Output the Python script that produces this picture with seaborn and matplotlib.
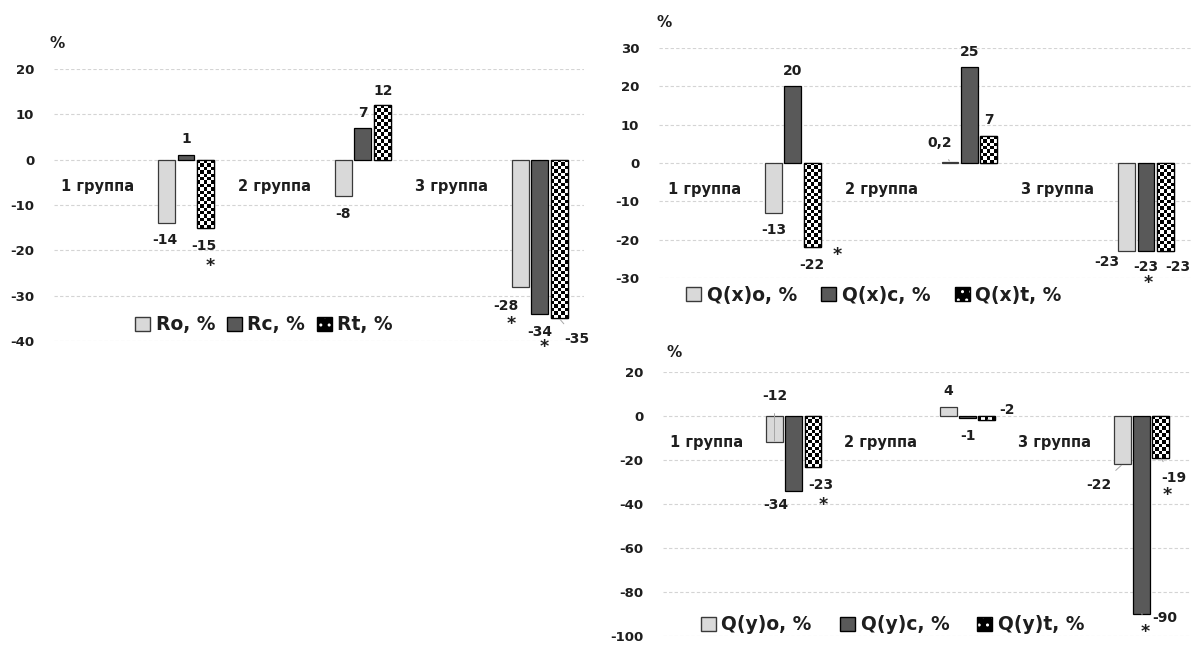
import numpy as np
import pandas as pd
import matplotlib
matplotlib.use("Agg")
import matplotlib.pyplot as plt
import seaborn as sns
from matplotlib.patches import Patch, Rectangle
from matplotlib.legend_handler import HandlerTuple

# ---- data ----
groups = ["1 группа", "2 группа", "3 группа"]

r_names = ["Ro, %", "Rc, %", "Rt, %"]
r_o = [-14, -8, -28]
r_c = [1, 7, -34]
r_t = [-15, 12, -35]

qx_names = ["Q(x)o, %", "Q(x)c, %", "Q(x)t, %"]
qx_o = [-13, 0.2, -23]
qx_c = [20, 25, -23]
qx_t = [-22, 7, -23]

qy_names = ["Q(y)o, %", "Q(y)c, %", "Q(y)t, %"]
qy_o = [-12, 4, -22]
qy_c = [-34, -1, -90]
qy_t = [-23, -2, -19]

# (series, group) that carry an asterisk
r_stars = [(2, 0), (0, 2), (1, 2)]
qx_stars = [(2, 0), (1, 2)]
qy_stars = [(2, 0), (1, 2), (2, 2)]

# ---- styling ----
LIGHT = "#d9d9d9"
DARK = "#595959"
TXT = "#1e1e1e"

sns.set_style("white")
plt.rcParams["font.family"] = ["DejaVu Sans"]


def fmt(v):
    return f"{v:g}".replace(".", ",")


def checker_fill(ax, bar, cell=3.4):
    x0, y0 = bar.get_x(), bar.get_y()
    w, h = bar.get_width(), bar.get_height()
    (px0, py0), (px1, py1) = ax.transData.transform([(x0, y0), (x0 + w, y0 + h)])
    nx = max(1, int(round(abs(px1 - px0) / cell)))
    ny = max(1, int(round(abs(py1 - py0) / cell)))
    board = np.indices((ny, nx)).sum(axis=0) % 2
    img = ax.imshow(board, cmap="gray", vmin=0, vmax=1,
                    extent=(x0, x0 + w, min(y0, y0 + h), max(y0, y0 + h)),
                    aspect="auto", interpolation="nearest",
                    zorder=bar.get_zorder() + 0.1)
    img.set_clip_path(bar)
    ax.add_patch(Rectangle((x0, y0), w, h, fill=False, ec="black", lw=0.9,
                           zorder=bar.get_zorder() + 0.2))


def panel(fig, rect, names, series, ylim, yticks, xlim, offsets, leaders,
          stars, star_off, pct_off, leg_anchor, colspace):
    ax = fig.add_axes(rect)
    df = pd.DataFrame({
        "group": np.repeat([groups], 3, axis=0).ravel(),
        "series": np.repeat(names, 3),
        "value": np.concatenate(series),
    })
    sns.barplot(data=df, x="group", y="value", hue="series",
                palette=[LIGHT, DARK, "white"], width=0.33, gap=0.14,
                edgecolor="black", linewidth=0.9, errorbar=None,
                legend=False, ax=ax, zorder=3)
    for b in ax.containers[0]:
        b.set_edgecolor("#3a3a3a")
    ax.set_xlim(*xlim)
    ax.set_ylim(*ylim)
    ax.set_yticks(yticks)
    ax.set_yticklabels([str(t) for t in yticks])
    ax.set_xticks([])
    ax.set_xlabel("")
    ax.set_ylabel("")
    sns.despine(ax=ax, left=True, bottom=True)
    ax.yaxis.grid(True, color="#d4d4d4", lw=0.8, ls=(0, (3, 2)))
    ax.set_axisbelow(True)
    ax.tick_params(axis="y", length=0, pad=14, labelsize=9.5, labelcolor=TXT)
    for t in ax.get_yticklabels():
        t.set_fontweight("bold")

    for b in ax.containers[2]:
        checker_fill(ax, b)

    # data labels
    for k in range(3):
        for i, b in enumerate(ax.containers[k]):
            v = series[k][i]
            xc = b.get_x() + b.get_width() / 2
            dx, dy = offsets[k][i]
            arrow = None
            if (k, i) in leaders:
                arrow = dict(arrowstyle="-", color="#a6a6a6", lw=0.7,
                             shrinkA=5, shrinkB=1)
            ax.annotate(fmt(v), xy=(xc, v), xytext=(dx, dy),
                        textcoords="offset pixels", ha="center", va="center",
                        fontsize=10, fontweight="bold", color=TXT,
                        arrowprops=arrow, zorder=5)
    for (k, i), (sx, sy) in zip(stars, star_off):
        b = ax.containers[k][i]
        xc = b.get_x() + b.get_width() / 2
        ax.annotate("*", xy=(xc, series[k][i]), xytext=(sx, sy),
                    textcoords="offset pixels", ha="center", va="center",
                    fontsize=12.5, fontweight="bold", color=TXT)

    for i, g in enumerate(groups):
        ax.annotate(g, xy=(i - 0.5, 0), xytext=(0, -27),
                    textcoords="offset pixels", ha="center", va="center",
                    fontsize=10.5, fontweight="bold", color=TXT)

    ax.annotate("%", xy=(0, 1), xycoords="axes fraction", xytext=pct_off,
                textcoords="offset pixels", ha="left", va="center",
                fontsize=11, fontweight="bold", color=TXT)

    handles = [
        Patch(fc=LIGHT, ec="#3a3a3a", lw=1.0),
        Patch(fc=DARK, ec="black", lw=1.0),
        (Patch(fc="black", ec="white", lw=0, hatch=".."),
         Patch(fill=False, ec="black", lw=1.0)),
    ]
    ax.legend(handles, names, loc="center", bbox_to_anchor=leg_anchor,
              ncol=3, frameon=False, handlelength=0.8, handleheight=0.8,
              handletextpad=0.3, columnspacing=colspace,
              prop=dict(size=13.5, weight="bold"), labelcolor=TXT,
              handler_map={tuple: HandlerTuple(ndivide=1, pad=0)})
    return ax


fig = plt.figure(figsize=(11.94, 6.45), dpi=100)

panel(fig, [0.0449, 0.4713, 0.444, 0.4217], r_names, [r_o, r_c, r_t],
      (-40, 20), [20, 10, 0, -10, -20, -30, -40], (-0.748, 2.249),
      offsets=[[(-1.5, -17), (0, -18), (-14, -19)],
               [(0, 16), (0, 15), (0, -18)],
               [(-1.5, -18), (1, 14), (18, -21)]],
      leaders=[(2, 2)],
      stars=r_stars, star_off=[(5, -38), (-9.5, -37), (5, -33)],
      pct_off=(-4, 26), leg_anchor=(0.397, 0.059), colspace=0.6)

panel(fig, [0.5517, 0.569, 0.447, 0.3566], qx_names, [qx_o, qx_c, qx_t],
      (-30, 30), [30, 20, 10, 0, -10, -20, -30], (-0.759, 2.263),
      offsets=[[(0, -17), (-10, 19), (-19.5, -11)],
               [(0, 15), (0, 15), (0, -16)],
               [(0, -18), (0, 16), (12.5, -16)]],
      leaders=[(0, 1)],
      stars=qx_stars, star_off=[(25.5, -8), (2.5, -32)],
      pct_off=(-2, 25), leg_anchor=(0.403, -0.074), colspace=1.3)

panel(fig, [0.555, 0.0140, 0.4418, 0.4093], qy_names, [qy_o, qy_c, qy_t],
      (-100, 20), [20, 0, -20, -40, -60, -80, -100], (-0.753, 2.28),
      offsets=[[(0, 46), (0, 16), (-23, -21)],
               [(-17.5, -14), (0, -18), (23.5, -4.5)],
               [(8.5, -18.5), (20, 10), (13, -20)]],
      leaders=[(0, 0), (2, 1), (0, 2), (1, 2), (2, 2)],
      stars=qy_stars, star_off=[(10.5, -38), (4, -18), (6.5, -37)],
      pct_off=(3.5, 19), leg_anchor=(0.436, 0.042), colspace=1.5)

fig.savefig("out.png", dpi=100)
